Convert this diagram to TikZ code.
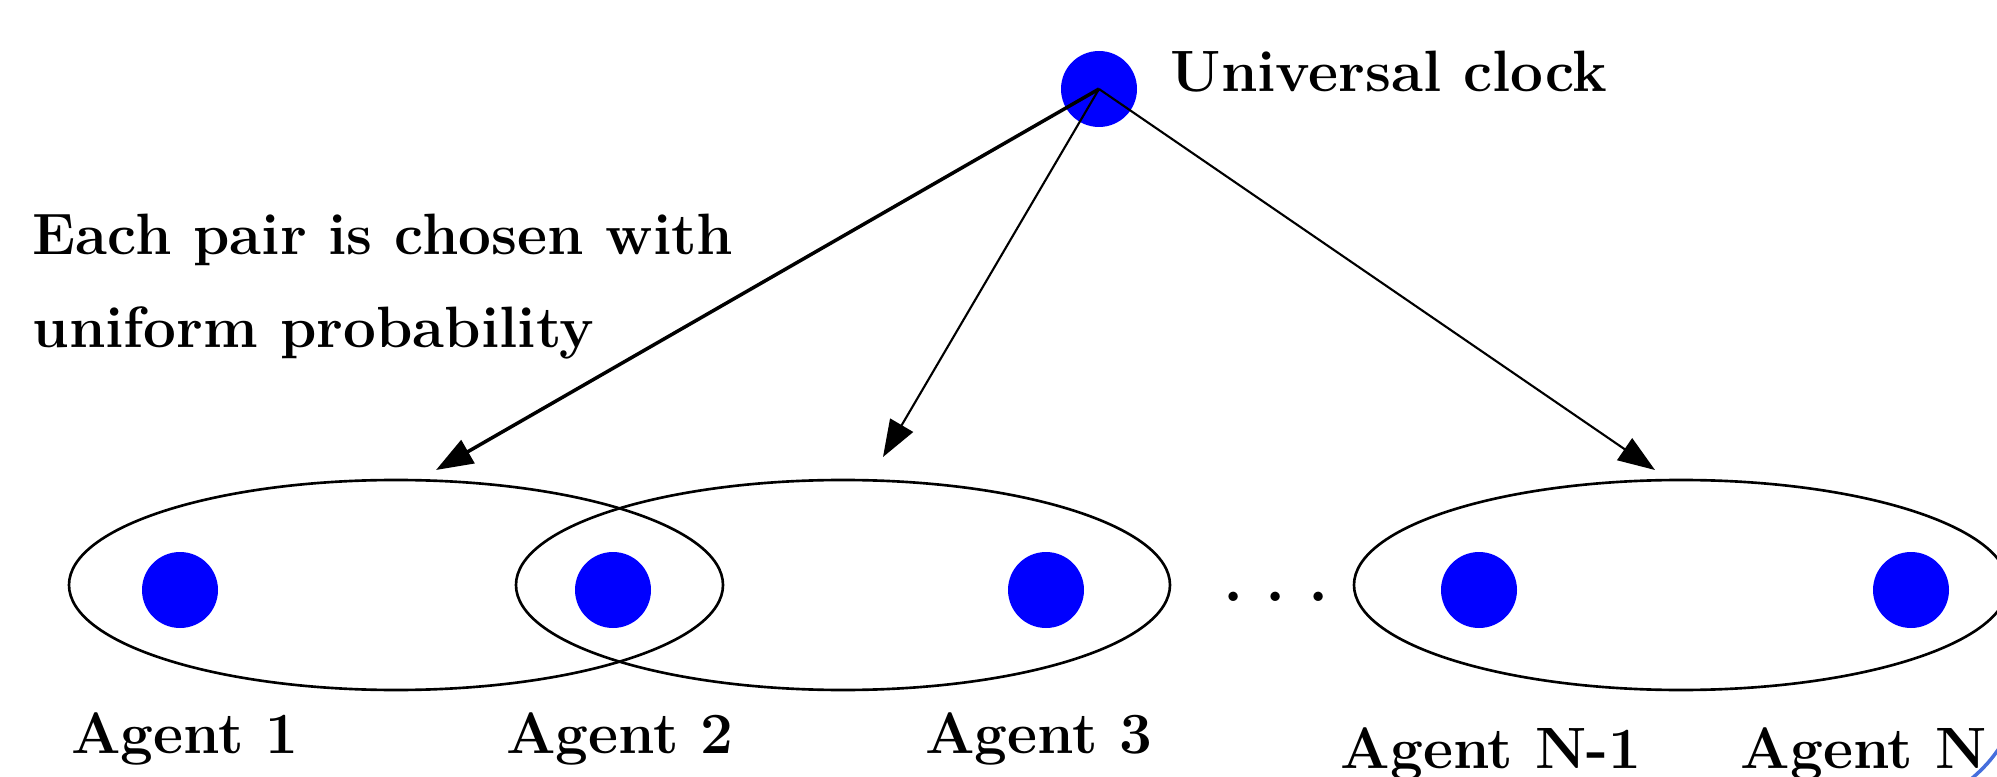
\documentclass[tikz,border=0pt]{standalone}
\usepackage{fix-cm}
\usetikzlibrary{arrows.meta,positioning}

\definecolor{arcblue}{RGB}{70,110,220}

\begin{document}
\begin{tikzpicture}[
    dot/.style={circle, fill=blue, minimum size=0.76cm, inner sep=0pt},
    lbl/.style={font=\fontsize{16.6}{26.5}\selectfont\bfseries, inner sep=0pt},
    tip/.style={-{Triangle[length=10.5pt,width=7.5pt]}}
  ]
  \useasboundingbox (0,0) rectangle (19.97,7.76);

  % universal clock
  \node[dot] (clock) at (10.99,6.87) {};
  \node[lbl, anchor=base west] (clocktxt) at (11.70,6.84) {Universal clock};

  % agents
  \node[dot] (a1) at (1.80,1.86) {};
  \node[dot] (a2) at (6.13,1.86) {};
  \node[dot] (a3) at (10.46,1.86) {};
  \node[dot] (an1) at (14.79,1.86) {};
  \node[dot] (an) at (19.11,1.86) {};

  % pairs
  \draw[line width=0.75pt] (3.96,1.91) ellipse (3.27 and 1.05);
  \draw[line width=0.75pt] (8.43,1.91) ellipse (3.27 and 1.05);
  \draw[line width=0.75pt] (16.81,1.91) ellipse (3.27 and 1.05);

  \node[inner sep=0pt, anchor=base, font=\fontsize{27.5}{30}\selectfont] (gap) at (12.76,1.75) {$\ldots$};

  \node[lbl, anchor=base] (l1) at (1.85,0.23) {Agent 1};
  \node[lbl, anchor=base] (l2) at (6.20,0.23) {Agent 2};
  \node[lbl, anchor=base] (l3) at (10.39,0.23) {Agent 3};
  \node[lbl, anchor=base] (ln1) at (14.91,0.08) {Agent N-1};
  \node[lbl, anchor=base west] (ln) at (17.40,0.08) {Agent N};

  \node[lbl, anchor=north west, align=left] (note) at (0.32,5.63)
    {Each pair is chosen with\\uniform probability};

  % clock ticks
  \coordinate (t1) at (4.36,3.06);
  \coordinate (t2) at (8.83,3.19);
  \coordinate (t3) at (16.55,3.06);
  \draw[tip, line width=1pt] (clock.center) -- (t1);
  \draw[tip, line width=0.6pt] (clock.center) -- (t2);
  \draw[tip, line width=0.6pt] (clock.center) -- (t3);

  \draw[arcblue, line width=1pt] (20.02,0.32) to[bend left=8] (19.70,-0.04);
\end{tikzpicture}
\end{document}
